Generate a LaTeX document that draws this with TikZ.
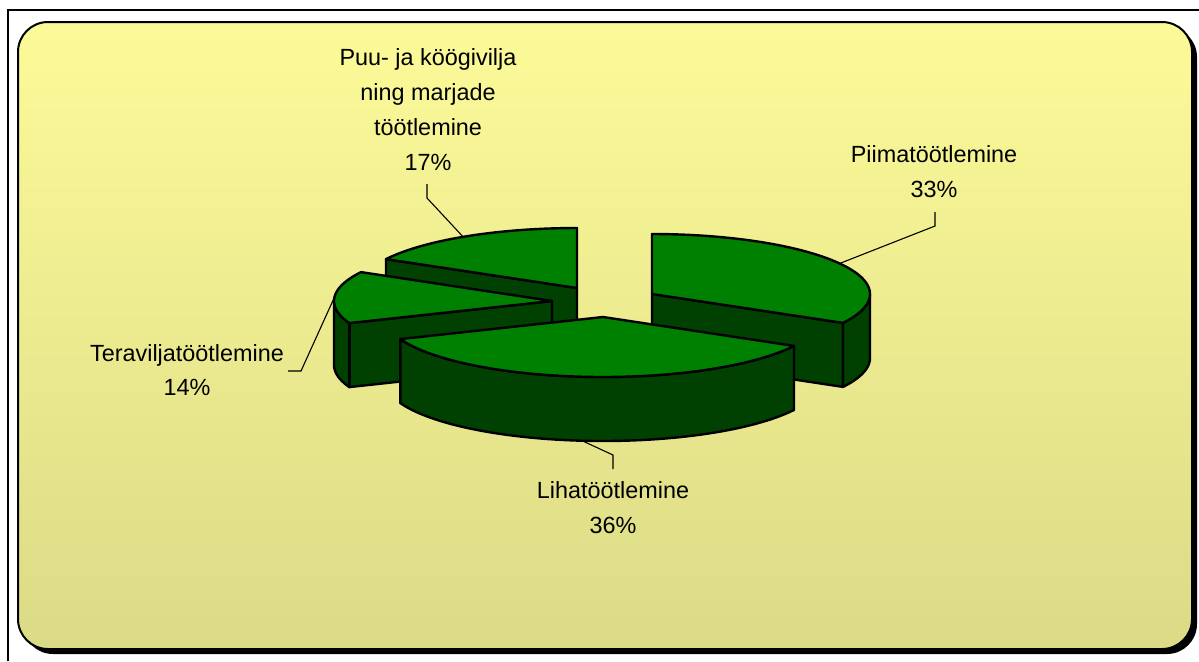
\documentclass[tikz,border=0pt]{standalone}
\usepackage{fontspec}
\setmainfont{Liberation Sans}
\definecolor{pgreen}{RGB}{0,128,0}
\definecolor{pdark}{RGB}{0,64,0}
\definecolor{bgtop}{RGB}{252,250,152}
\definecolor{bgbot}{RGB}{219,219,135}
\begin{document}
\begin{tikzpicture}[x=0.5pt,y=-0.5pt,
  pieedge/.style={draw=black,line width=1.2pt,line join=round},
  pietop/.style={pieedge,fill=pgreen},
  pieside/.style={pieedge,fill=pdark},
  leader/.style={draw=black,line width=0.55pt},
  lbl/.style={align=center,inner sep=0pt,font=\fontsize{11.7}{17.4}\selectfont,text=black},
  frameline/.style={draw=black,line width=1pt}]
\useasboundingbox (0,0) rectangle (1199,661);
\fill[white] (0,0) rectangle (1199,661);
\draw[frameline] (8,661) -- (8,10) -- (1199,10);
\fill[black,rounded corners=15pt] (23,27) rectangle (1197,654);
\draw[frameline,top color=bgtop,bottom color=bgbot,rounded corners=15pt] (18,22) rectangle (1192,649);
\def\ea{218}\def\eb{60}\def\eh{64}
% Puu- ja koogivilja (back)
\coordinate (c4) at (577,288);
\path[pieside] (c4) -- ({577+\ea*cos(151.2)},{288-\eb*sin(151.2)}) -- ++(0,\eh) -- (577,352) -- cycle;
\path[pietop] (c4) -- plot[domain=151.2:90,samples=40] ({577+\ea*cos(\x)},{288-\eb*sin(\x)}) -- cycle;
% Teravilja
\coordinate (c3) at (552,301);
\path[pieside] (c3) -- ({552+\ea*cos(201.6)},{301-\eb*sin(201.6)}) -- ++(0,\eh) -- (552,365) -- cycle;
\path[pieside] plot[domain=180:201.6,samples=20] ({552+\ea*cos(\x)},{301-\eb*sin(\x)}) -- plot[domain=201.6:180,samples=20] ({552+\ea*cos(\x)},{365-\eb*sin(\x)}) -- cycle;
\path[pietop] (c3) -- plot[domain=201.6:151.2,samples=40] ({552+\ea*cos(\x)},{301-\eb*sin(\x)}) -- cycle;
% Piima
\coordinate (c1) at (652,294);
\path[pieside] (c1) -- ({652+\ea*cos(-28.8)},{294-\eb*sin(-28.8)}) -- ++(0,\eh) -- (652,358) -- cycle;
\path[pieside] plot[domain=-28.8:0,samples=20] ({652+\ea*cos(\x)},{294-\eb*sin(\x)}) -- plot[domain=0:-28.8,samples=20] ({652+\ea*cos(\x)},{358-\eb*sin(\x)}) -- cycle;
\path[pietop] (c1) -- plot[domain=-28.8:90,samples=80] ({652+\ea*cos(\x)},{294-\eb*sin(\x)}) -- cycle;
% Liha (front)
\coordinate (c2) at (603,317);
\path[pieside] plot[domain=-158.4:-28.8,samples=80] ({603+\ea*cos(\x)},{317-\eb*sin(\x)}) -- plot[domain=-28.8:-158.4,samples=80] ({603+\ea*cos(\x)},{381-\eb*sin(\x)}) -- cycle;
\path[pietop] (c2) -- plot[domain=-158.4:-28.8,samples=80] ({603+\ea*cos(\x)},{317-\eb*sin(\x)}) -- cycle;
% labels
\node[lbl] (puu) at (428,109.5) {Puu- ja köögivilja\\ning marjade\\töötlemine\\17\%};
\node[lbl] (piima) at (934,172) {Piimatöötlemine\\33\%};
\node[lbl] (tera) at (187,370) {Teraviljatöötlemine\\14\%};
\node[lbl] (liha) at (613,508) {Lihatöötlemine\\36\%};
% leader anchors
\coordinate (puuA) at ({577+\ea*cos(121.5)},{288-\eb*sin(121.5)});
\coordinate (piimaA) at ({652+\ea*cos(30.6)},{294-\eb*sin(30.6)});
\coordinate (teraA) at ({552+\ea*cos(176.4)},{301-\eb*sin(176.4)});
\coordinate (lihaA) at ({603+\ea*cos(-95.5)},{381-\eb*sin(-95.5)});
\coordinate (puuL1) at (427,184);
\coordinate (puuL2) at (427,198);
\coordinate (piimaL1) at (935,212);
\coordinate (piimaL2) at (935,226);
\coordinate (teraL1) at (288,371);
\coordinate (teraL2) at (301,371);
\coordinate (lihaL1) at (613,469);
\coordinate (lihaL2) at (613,455);
\draw[leader] (puuL1) -- (puuL2) -- (puuA);
\draw[leader] (piimaL1) -- (piimaL2) -- (piimaA);
\draw[leader] (teraL1) -- (teraL2) -- (teraA);
\draw[leader] (lihaL1) -- (lihaL2) -- (lihaA);
\end{tikzpicture}
\end{document}
